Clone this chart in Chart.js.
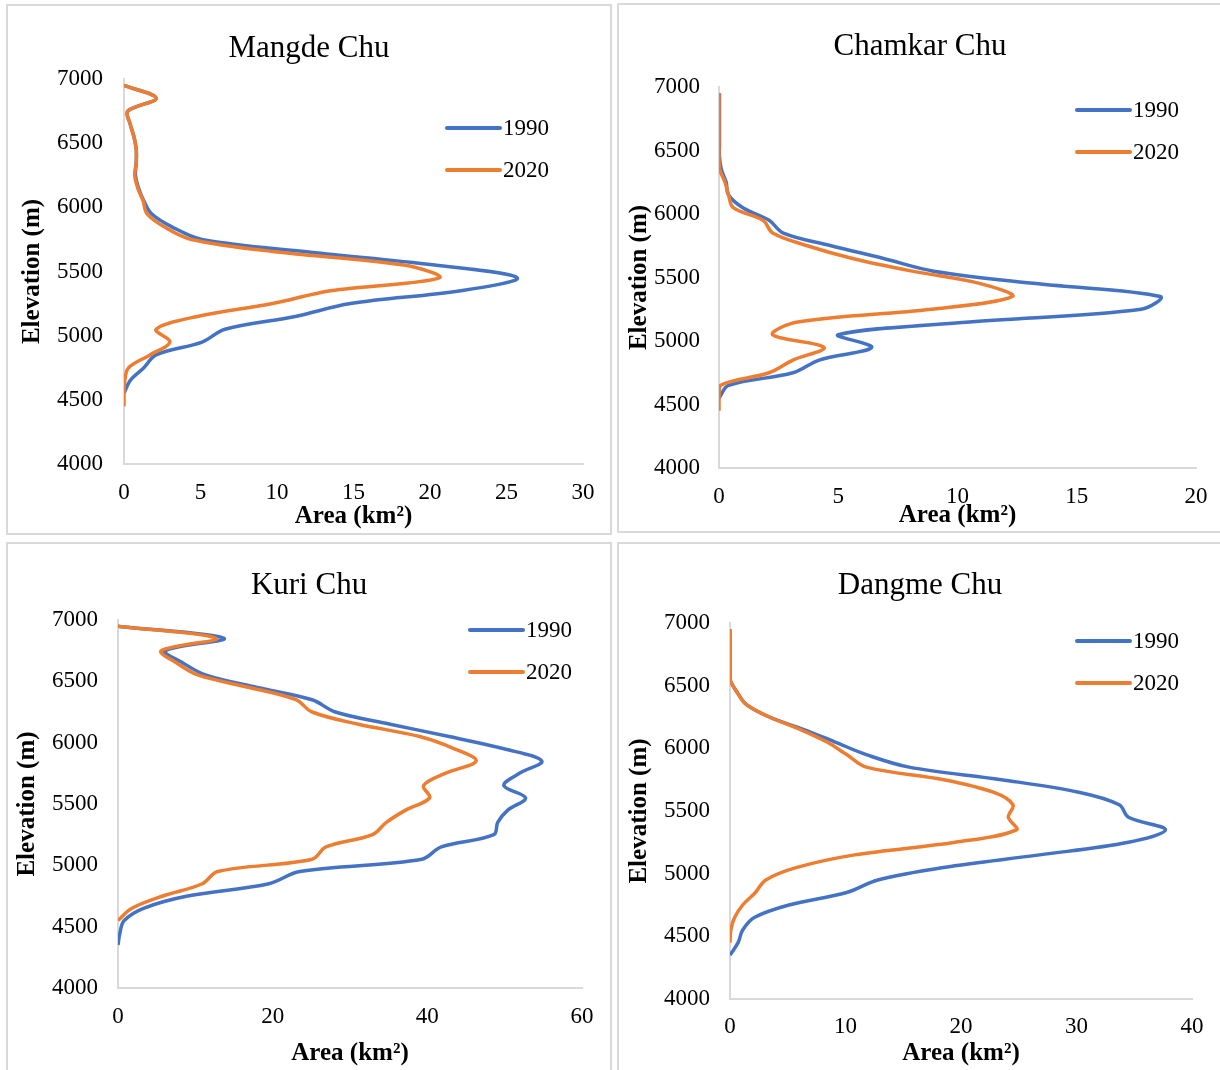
<!DOCTYPE html>
<html><head><meta charset="utf-8">
<script src="https://cdn.jsdelivr.net/npm/chart.js@4.4.1/dist/chart.umd.min.js"></script>
<style>
html,body{margin:0;padding:0;background:#fff;width:1220px;height:1070px;overflow:hidden;position:relative;}
.panel{position:absolute;border:2px solid #d9d9d9;box-sizing:border-box;background:#fff;}
.panel canvas{position:absolute;left:0;top:0;}
.ttl{position:absolute;font-family:"Liberation Serif","Times New Roman",serif;font-size:31px;color:#000;white-space:nowrap;transform:translate(-50%,-50%);line-height:1;}
</style></head><body>
<script>
// ---- Data (elevation band mid-points, m) ----
const ELEV = [4350,4450,4550,4650,4750,4850,4950,5050,5150,5250,5350,5450,5550,5650,5750,5850,5950,6050,6150,6250,6350,6450,6550,6650,6750,6850,6950];
const SERIES_LABELS = ['1990','2020'];

// Mangde Chu (km2)
const mangde1990 = [null,null,0,0.4,1.3,2.1,5.1,6.6,11.2,14.8,22.0,25.7,20.3,12.2,5.1,3.1,1.8,1.3,0.95,0.75,0.8,0.8,0.65,0.4,0.25,2.1,0];
const mangde2020 = [null,0,0,0.05,0.3,1.7,3.0,2.1,4.8,9.7,13.5,20.6,18.3,10.2,4.4,2.6,1.5,1.25,0.9,0.7,0.8,0.8,0.65,0.4,0.25,2.1,0];
// Chamkar Chu
const chamkar1990 = [null,null,0,0.4,3.1,4.2,6.4,5.0,10.5,17.7,18.5,13.4,9.0,6.9,4.7,2.7,2.1,1.0,0.4,0.3,0.1,0.02,0.02,0.02,0.02,0.02,0.02];
const chamkar2020 = [null,0,0,0.05,2.1,3.1,4.4,2.25,3.3,8.9,12.3,11.0,8.1,5.6,3.7,2.25,1.85,0.6,0.4,0.25,0.03,0,0,0,0,0,0];
// Kuri Chu
const kuri1990 = [0,0.25,0.8,3.3,9.0,19.5,23.5,39.3,41.8,48.6,49.1,50.4,52.7,49.9,51.9,54.8,49.9,42.8,35.2,28.1,25.1,18.0,11.4,8.4,6.1,13.7,0];
const kuri2020 = [null,null,0,1.8,5.8,10.9,12.9,25.1,26.9,32.9,34.7,37.2,40.3,39.5,42.3,46.3,43.5,39.0,31.1,25.1,23.0,17.0,10.4,7.6,5.6,12.7,0];
// Dangme Chu
const dangme1990 = [0,0.7,1.1,2.1,5.1,10.1,12.8,18.5,26.8,34.5,37.7,34.5,33.7,30.2,23.5,15.5,11.8,9.1,6.4,3.4,1.4,0.6,0,0,0,0,0];
const dangme2020 = [null,0,0.07,0.4,1.1,2.2,3.1,5.8,10.8,19.5,24.8,24.1,24.5,22.8,18.5,11.8,10.1,8.4,6.1,3.4,1.4,0.6,0,0,0,0,0];

const TITLES = ['Mangde Chu','Chamkar Chu','Kuri Chu','Dangme Chu'];
const X_MAX = [30,20,60,40];
const X_STEP = [5,5,20,10];
const Y_MIN = 4000, Y_MAX = 7000, Y_STEP = 500;
const Y_TITLE = 'Elevation (m)';
const X_TITLE = 'Area (km\u00B2)';

// ---- Layout (page px) ----
const LAYOUT = [
  {box:{l:6,t:4,w:606,h:531},  plot:{l:124,r:583,t:79,b:464},  yTitleX:33,  xTitleY:517, xTickY:493,  yTickEnd:103, leg:{x1:447,x2:500,y1:128,y2:170}, title:{x:309,y:46}},
  {box:{l:617,t:3,w:610,h:530},plot:{l:719,r:1196,t:87,b:468}, yTitleX:640, xTitleY:516, xTickY:497,  yTickEnd:700, leg:{x1:1077,x2:1130,y1:110,y2:152}, title:{x:920,y:44}},
  {box:{l:6,t:542,w:606,h:540},plot:{l:118,r:582,t:620,b:988}, yTitleX:28,  xTitleY:1054,xTickY:1017, yTickEnd:98,  leg:{x1:470,x2:523,y1:630,y2:672}, title:{x:309,y:583}},
  {box:{l:617,t:542,w:610,h:540},plot:{l:730,r:1192,t:623,b:999},yTitleX:640,xTitleY:1054,xTickY:1027, yTickEnd:710, leg:{x1:1077,x2:1130,y1:641,y2:683}, title:{x:920,y:583}}
];
const DATA = [[mangde1990,mangde2020],[chamkar1990,chamkar2020],[kuri1990,kuri2020],[dangme1990,dangme2020]];
const COLORS = ['#4472C4','#ED7D31'];
const FONT = "'Liberation Serif','Times New Roman',serif";
const TICK_SIZE = 23, AXT_SIZE = 25, LEG_SIZE = 23;

Chart.defaults.font.family = FONT;
Chart.defaults.color = '#000';

function toPoints(arr){
  const pts = [];
  arr.forEach((v,i)=>{ if(v!==null) pts.push({x:v, y:ELEV[i]}); });
  return pts;
}

const legendPlugin = {
  id:'insideLegend',
  afterDraw(chart, args, opts){
    const ctx = chart.ctx;
    ctx.save();
    ctx.font = LEG_SIZE + 'px ' + FONT;
    ctx.textBaseline = 'middle';
    ctx.textAlign = 'left';
    const ys = [opts.y1, opts.y2];
    chart.data.datasets.forEach((ds,i)=>{
      ctx.strokeStyle = ds.borderColor;
      ctx.lineWidth = 4;
      ctx.lineCap = 'round';
      ctx.beginPath();
      ctx.moveTo(opts.x1, ys[i]);
      ctx.lineTo(opts.x2, ys[i]);
      ctx.stroke();
      ctx.fillStyle = '#000';
      ctx.fillText(ds.label, opts.x2 + 3, ys[i] + 1);
    });
    ctx.restore();
  }
};

LAYOUT.forEach((L, k)=>{
  const div = document.createElement('div');
  div.className = 'panel';
  div.style.left = L.box.l+'px'; div.style.top = L.box.t+'px';
  div.style.width = L.box.w+'px'; div.style.height = L.box.h+'px';
  const cv = document.createElement('canvas');
  const cw = L.box.w-4, ch = L.box.h-4;
  const cx0 = L.box.l+2, cy0 = L.box.t+2;
  cv.width = cw; cv.height = ch;
  cv.style.width = cw+'px'; cv.style.height = ch+'px';
  div.appendChild(cv);
  document.body.appendChild(div);

  const t = document.createElement('div');
  t.className = 'ttl';
  t.textContent = TITLES[k];
  t.style.left = L.title.x+'px'; t.style.top = L.title.y+'px';
  document.body.appendChild(t);

  const yWidth = L.plot.l - cx0;
  const padTop = L.plot.t - cy0;
  const padRight = cw - (L.plot.r - cx0);
  const xHeight = ch - (L.plot.b - cy0);
  const lh = AXT_SIZE*1.2;
  const yTitlePad = Math.max(0, (L.yTitleX - cx0) - lh/2);
  const xTitlePad = Math.max(0, (ch - (L.xTitleY - cy0)) - lh/2);
  const xTickPad = (L.xTickY - L.plot.b) - TICK_SIZE*1.2/2;
  const yTickPad = L.plot.l - L.yTickEnd;

  new Chart(cv, {
    type:'scatter',
    data:{datasets:[
      {label:SERIES_LABELS[0], data:toPoints(DATA[k][0]), showLine:true, borderColor:COLORS[0], backgroundColor:COLORS[0], borderWidth:3.5, pointRadius:0, tension:0.35, order:2},
      {label:SERIES_LABELS[1], data:toPoints(DATA[k][1]), showLine:true, borderColor:COLORS[1], backgroundColor:COLORS[1], borderWidth:3.5, pointRadius:0, tension:0.35, order:1}
    ]},
    options:{
      responsive:false, animation:false, devicePixelRatio:1,
      layout:{padding:{left:0, top:padTop, right:padRight, bottom:0}},
      plugins:{legend:{display:false}, tooltip:{enabled:false}, title:{display:false},
        insideLegend:{x1:L.leg.x1-cx0, x2:L.leg.x2-cx0, y1:L.leg.y1-cy0, y2:L.leg.y2-cy0}},
      scales:{
        x:{type:'linear', min:0, max:X_MAX[k],
          ticks:{stepSize:X_STEP[k], font:{size:TICK_SIZE}, color:'#000', padding:xTickPad, maxRotation:0,
                 callback:(v)=>String(v)},
          grid:{display:false, drawTicks:false},
          border:{display:true, color:'#d9d9d9', width:2},
          title:{display:true, text:X_TITLE, font:{size:AXT_SIZE, weight:'bold'}, color:'#000', padding:{top:0,bottom:xTitlePad}},
          afterFit(s){ s.height = xHeight; }
        },
        y:{type:'linear', min:Y_MIN, max:Y_MAX,
          ticks:{stepSize:Y_STEP, font:{size:TICK_SIZE}, color:'#000', padding:yTickPad,
                 callback:(v)=>String(v)},
          grid:{display:false, drawTicks:false},
          border:{display:true, color:'#d9d9d9', width:2},
          title:{display:true, text:Y_TITLE, font:{size:AXT_SIZE, weight:'bold'}, color:'#000', padding:{top:yTitlePad,bottom:0}},
          afterFit(s){ s.width = yWidth; }
        }
      }
    },
    plugins:[legendPlugin]
  });
});
</script>
</body></html>
